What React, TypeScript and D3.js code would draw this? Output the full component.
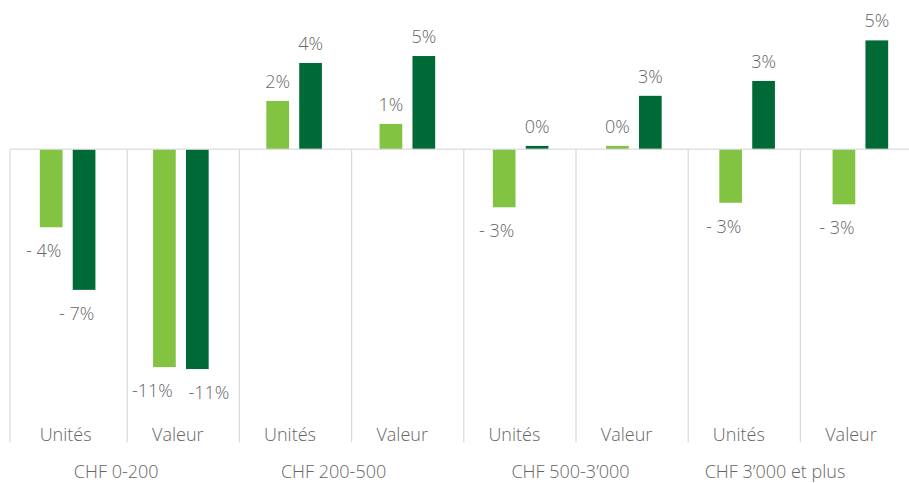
import React from "react";
import * as d3 from "d3";

// ---- data ----
const subCategories = ["Unités", "Valeur", "Unités", "Valeur", "Unités", "Valeur", "Unités", "Valeur"];
const priceGroups = ["CHF 0-200", "CHF 200-500", "CHF 500-3’000", "CHF 3’000 et plus"];
const seriesNames = ["Série 1", "Série 2"];
const lightValues = [-3.94, -11.0, 2.44, 1.28, -2.93, 0.17, -2.7, -2.78];
const darkValues = [-7.1, -11.1, 4.36, 4.71, 0.17, 2.7, 3.45, 5.5];
const lightLabels = ["- 4%", "-11%", "2%", "1%", "- 3%", "0%", "- 3%", "- 3%"];
const darkLabels = ["- 7%", "-11%", "4%", "5%", "0%", "3%", "3%", "5%"];

// ---- layout (not data) ----
const W = 909;
const H = 483;
const lightNudge = [-7.5, -12, 0, 0, -7.5, 0, -7, -7];
const darkNudge = [-7.5, 11.5, 0, 0, 0, 0, 0, 0];
const groupNudge = [-11, -18, -5.5, -25.4];
const colors = ["#82c341", "#006a36"];
const textColor = "#666666";
const gridColor = "#d9d9d9";
const font = "'Open Sans', sans-serif";

export default function App() {
  const idx = subCategories.map((_, i) => i);
  // bar placement scale
  const x0 = d3.scaleBand<number>().domain(idx).range([11, 917]).padding(0);
  const x1 = d3
    .scaleBand<string>()
    .domain(seriesNames)
    .range([0, x0.bandwidth()])
    .paddingInner(0.31)
    .paddingOuter(0.876);
  // category-axis scale (separators & labels)
  const xa = d3.scaleBand<number>().domain(idx).range([15, 912.6]).padding(0);
  const y = d3.scaleLinear().domain([-14.8, 7.54]).range([442.3, 0]);
  const y0 = y(0);

  const series = [
    { name: seriesNames[0], values: lightValues, labels: lightLabels, nudge: lightNudge, color: colors[0] },
    { name: seriesNames[1], values: darkValues, labels: darkLabels, nudge: darkNudge, color: colors[1] },
  ];

  const separators = [10, ...idx.slice(1).map((i) => xa(i)!)];

  return (
    <svg
      width={W}
      height={H}
      style={{ position: "absolute", left: 0, top: 0, background: "#fff" }}
      fontFamily={font}
    >
      <rect x={0} y={0} width={W} height={H} fill="#fff" />
      {separators.map((sx, i) => (
        <line key={"s" + i} x1={sx} x2={sx} y1={y0} y2={y(-14.8)} stroke={gridColor} strokeWidth={1.2} />
      ))}
      {series.map((s) =>
        s.values.map((v, i) => {
          const bx = x0(i)! + x1(s.name)!;
          const top = Math.min(y(v), y0);
          const h = Math.abs(y(v) - y0);
          return <rect key={s.name + i} x={bx} y={top} width={x1.bandwidth()} height={h} fill={s.color} />;
        })
      )}
      <line x1={10} x2={W} y1={y0} y2={y0} stroke={gridColor} strokeOpacity={0.8} strokeWidth={1.5} />
      {series.map((s) =>
        s.values.map((v, i) => {
          const cx = x0(i)! + x1(s.name)! + x1.bandwidth() / 2 + s.nudge[i];
          const ty = v >= 0 ? y(v) - 13 : y(v) + 30;
          return (
            <text
              key={"l" + s.name + i}
              x={cx}
              y={ty}
              textAnchor="middle"
              fontSize={18}
              fontWeight={300}
              fill={textColor}
            >
              {s.labels[i]}
            </text>
          );
        })
      )}
      {subCategories.map((c, i) => (
        <text
          key={"c" + i}
          x={xa(i)! + xa.bandwidth() / 2 - 5.5}
          y={441}
          textAnchor="middle"
          fontSize={18}
          fontWeight={300}
          fill={textColor}
        >
          {c}
        </text>
      ))}
      {priceGroups.map((g, j) => {
        const gx = (xa(j * 2)! + xa(j * 2 + 1)! + xa.bandwidth()) / 2 + groupNudge[j];
        return (
          <text
            key={"g" + j}
            x={gx}
            y={477.5}
            textAnchor="middle"
            fontSize={18}
            fontWeight={300}
            fill={textColor}
          >
            {g}
          </text>
        );
      })}
    </svg>
  );
}
